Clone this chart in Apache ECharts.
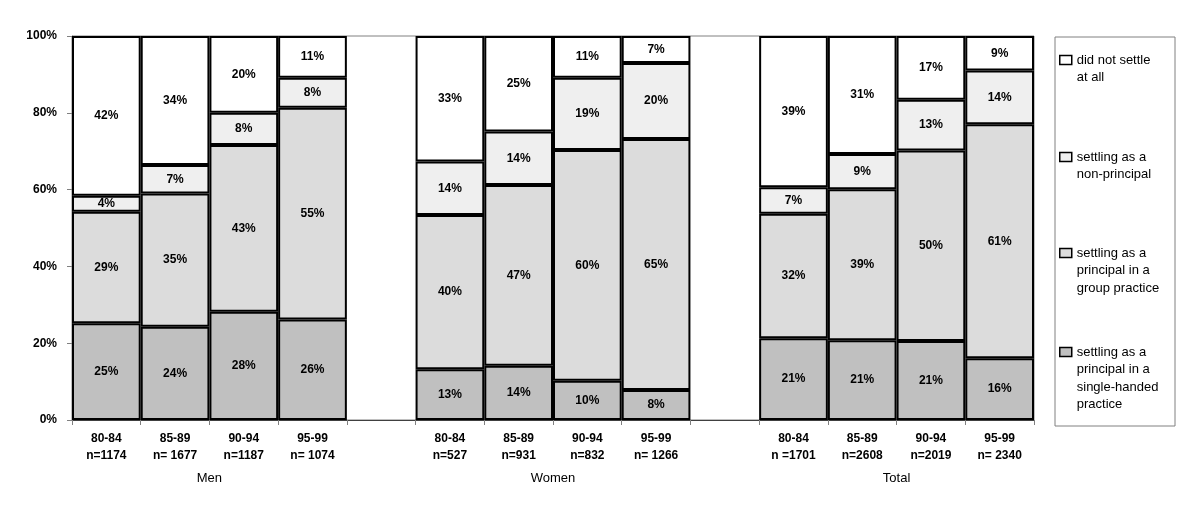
<!DOCTYPE html>
<html>
<head>
<meta charset="utf-8">
<script src="https://cdn.jsdelivr.net/npm/echarts/dist/echarts.min.js"></script>
<style>
html,body{margin:0;padding:0;background:#fff;}
#chart{width:1200px;height:525px;}
</style>
</head>
<body>
<div id="chart"></div>
<script>
// ---- data ----
const groups = ['Men', 'Women', 'Total'];
const periods = ['80-84', '85-89', '90-94', '95-99'];
const menN = ['n=1174', 'n= 1677', 'n=1187', 'n= 1074'];
const womenN = ['n=527', 'n=931', 'n=832', 'n= 1266'];
const totalN = ['n =1701', 'n=2608', 'n=2019', 'n= 2340'];
const yTicks = [0, 20, 40, 60, 80, 100];

const seriesNames = [
  'settling as a\nprincipal in a\nsingle-handed\npractice',
  'settling as a\nprincipal in a\ngroup practice',
  'settling as a\nnon-principal',
  'did not settle\nat all'
];
// percentages per bar: Men 80-84..95-99, Women ..., Total ...
const singleHanded  = [25.2, 24.3, 28.2, 26.2,  13.2, 14.1, 10.2, 7.8,  21.3, 20.8, 20.6, 16.1];
const groupPractice = [29.0, 34.7, 43.4, 55.1,  40.2, 47.1, 60.1, 65.4,  32.4, 39.3, 49.6, 60.9];
const nonPrincipal  = [4.2, 7.4, 8.4, 7.8,      13.9, 13.9, 18.8, 19.8,  6.9, 9.2, 13.2, 14.0];
const notSettled    = [41.6, 33.6, 20.0, 10.9,  32.7, 24.9, 10.9, 7.0,   39.4, 30.7, 16.6, 9.0];

const colors = ['#c0c0c0', '#dcdcdc', '#efefef', '#ffffff'];

// ---- build categories with an empty slot between groups ----
const nLists = [menN, womenN, totalN];
const categories = [];
groups.forEach((g, gi) => {
  periods.forEach((p, pi) => categories.push(p + '\n' + nLists[gi][pi]));
  if (gi < groups.length - 1) categories.push('');
});
function withGaps(arr) {
  const out = [];
  groups.forEach((g, gi) => {
    for (let i = 0; i < periods.length; i++) out.push(arr[gi * periods.length + i]);
    if (gi < groups.length - 1) out.push(null);
  });
  return out;
}
const groupCenters = groups.map((g, gi) => gi * (periods.length + 1) + periods.length / 2);

const allValues = [singleHanded, groupPractice, nonPrincipal, notSettled];

const series = allValues.map((vals, i) => ({
  name: seriesNames[i],
  type: 'bar',
  stack: 'all',
  barCategoryGap: '0%',
  data: withGaps(vals),
  itemStyle: { color: colors[i], borderColor: '#000', borderWidth: 2 },
  label: {
    show: true,
    position: 'inside',
    color: '#000',
    fontFamily: 'Liberation Sans, Arial, sans-serif',
    fontWeight: 'bold',
    fontSize: 12,
    formatter: p => (p.value == null ? '' : Math.round(p.value) + '%')
  },
  emphasis: { disabled: true }
}));

const LH = 17.5;
const legendFirstLine = [352, 253, 157, 60];
const legends = seriesNames.map((name, i) => {
  const lines = name.split('\n').length;
  return {
    data: [name],
    orient: 'vertical',
    left: 1059,
    top: legendFirstLine[i] - (2 * lines - 1) * LH / 2,
    padding: 0,
    itemWidth: 12,
    itemHeight: 9,
    icon: 'rect',
    selectedMode: false,
    itemStyle: { borderColor: '#000', borderWidth: 1.5 },
    formatter: n => '\n'.repeat(lines - 1) + n,
    textStyle: {
      fontFamily: 'Liberation Sans, Arial, sans-serif',
      fontSize: 13,
      color: '#000',
      lineHeight: LH
    }
  };
});

const chart = echarts.init(document.getElementById('chart'), null, { renderer: 'canvas' });
chart.setOption({
  animation: false,
  backgroundColor: '#fff',
  grid: {
    left: 72, right: 166, top: 36, bottom: 105,
    show: true, borderColor: '#808080', borderWidth: 1
  },
  legend: legends,
  graphic: [{
    type: 'rect',
    shape: { x: 1055, y: 37, width: 120, height: 389 },
    style: { fill: 'none', stroke: '#808080', lineWidth: 1 },
    silent: true
  }],
  xAxis: [{
    type: 'category',
    data: categories,
    axisLine: { lineStyle: { color: '#404040', width: 1 } },
    axisTick: { show: true, length: 5, lineStyle: { color: '#808080' } },
    axisLabel: {
      interval: 0,
      margin: 10,
      color: '#000',
      fontFamily: 'Liberation Sans, Arial, sans-serif',
      fontWeight: 'bold',
      fontSize: 12,
      lineHeight: 17
    }
  }, {
    type: 'value',
    position: 'bottom',
    min: 0,
    max: categories.length,
    axisLine: { show: false },
    axisTick: { show: false },
    splitLine: { show: false },
    axisLabel: {
      customValues: groupCenters,
      margin: 52,
      color: '#000',
      fontFamily: 'Liberation Sans, Arial, sans-serif',
      fontSize: 13,
      formatter: v => groups[groupCenters.indexOf(v)] || ''
    }
  }],
  yAxis: {
    type: 'value',
    min: yTicks[0],
    max: yTicks[yTicks.length - 1],
    interval: 20,
    axisLine: { show: true, lineStyle: { color: '#808080' } },
    axisTick: { show: true, length: 5, lineStyle: { color: '#808080' } },
    splitLine: { show: false },
    axisLabel: {
      formatter: '{value}%',
      margin: 15,
      color: '#000',
      fontFamily: 'Liberation Sans, Arial, sans-serif',
      fontWeight: 'bold',
      fontSize: 12
    }
  },
  series: series
});
</script>
</body>
</html>
